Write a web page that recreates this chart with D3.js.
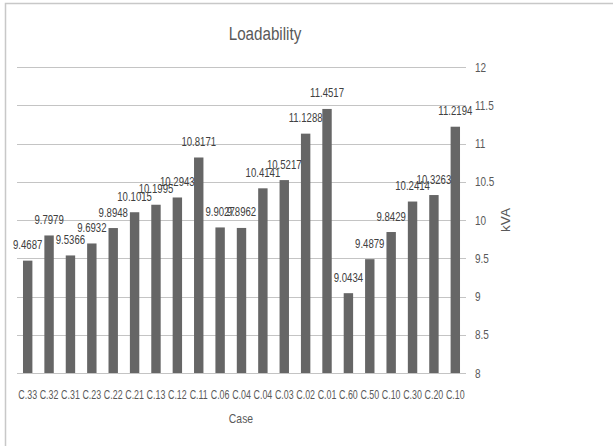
<!DOCTYPE html>
<meta charset="utf-8">
<style>
body { margin: 0; background: #fff; }
text { font-family: "Liberation Sans", Arial, sans-serif; fill: #595959; }
</style>
<svg width="613" height="446"></svg>
<script src="https://cdn.jsdelivr.net/npm/d3@7"></script>
<script>

// Data
var cases = ["C.33", "C.32", "C.31", "C.23", "C.22", "C.21", "C.13", "C.12", "C.11", "C.06", "C.04",
             "C.04", "C.03", "C.02", "C.01", "C.60", "C.50", "C.10", "C.30", "C.20", "C.10"];
var loadability = [9.4687, 9.7979, 9.5366, 9.6932, 9.8948, 10.1015, 10.1995, 10.2943, 10.8171, 9.9027, 9.8962,
                   10.4141, 10.5217, 11.1288, 11.4517, 9.0434, 9.4879, 9.8429, 10.2414, 10.3263, 11.2194];
var yTicks = [8, 8.5, 9, 9.5, 10, 10.5, 11, 11.5, 12];

var svg = d3.select("svg");
var squash = 0.8; // text in the original is horizontally compressed

// chart border (only top and left edges visible)
svg.append("rect")
    .attr("x", 5.5).attr("y", 3.5)
    .attr("width", 640).attr("height", 480)
    .attr("fill", "none")
    .attr("stroke", "#c8c8c8")
    .attr("stroke-width", 1.5);

var data = cases.map(function(c, i) { return { key: i, name: c, value: loadability[i] }; });

var x = d3.scaleBand()
    .domain(d3.range(cases.length))
    .range([17, 466])
    .paddingInner(0.56)
    .paddingOuter(0.28);

var y = d3.scaleLinear()
    .domain([8, 12])
    .range([373, 67]);

function label(sel, px, py, k) {
  return sel.attr("transform", "translate(" + px + "," + py + ") scale(" + (k || squash) + ",1)");
}

// gridlines
svg.append("g")
  .selectAll("line")
  .data(yTicks)
  .enter().append("line")
    .attr("x1", 17).attr("x2", 466)
    .attr("y1", function(d) { return Math.round(y(d)) + 0.5; })
    .attr("y2", function(d) { return Math.round(y(d)) + 0.5; })
    .style("stroke", "#c4c4c4")
    .style("stroke-width", "1.2px");

// right axis labels
svg.append("g")
  .selectAll("text")
  .data(yTicks)
  .enter().append("text")
    .each(function(d) { label(d3.select(this), 475, y(d) + 4.5); })
    .attr("font-size", 12.5)
    .text(function(d) { return d; });

// bars
svg.append("g")
  .selectAll("rect")
  .data(data)
  .enter().append("rect")
    .attr("x", function(d) { return x(d.key); })
    .attr("width", x.bandwidth())
    .attr("y", function(d) { return y(d.value); })
    .attr("height", function(d) { return y(8) - y(d.value); })
    .attr("fill", "#666666");

// data labels
svg.append("g")
  .selectAll("text")
  .data(data)
  .enter().append("text")
    .each(function(d) { label(d3.select(this), x(d.key) + x.bandwidth() / 2, y(d.value) - 11.5); })
    .attr("text-anchor", "middle")
    .attr("font-size", 12)
    .style("fill", "#404040")
    .text(function(d) { return d.value; });

// category labels
svg.append("g")
  .selectAll("text")
  .data(data)
  .enter().append("text")
    .each(function(d) { label(d3.select(this), x(d.key) + x.bandwidth() / 2, 398.5, 0.74); })
    .attr("text-anchor", "middle")
    .attr("font-size", 12)
    .text(function(d) { return d.name; });

// title
label(svg.append("text"), 265, 40)
    .attr("text-anchor", "middle")
    .attr("font-size", 19)
    .text("Loadability");

// axis titles
label(svg.append("text"), 241, 422.5)
    .attr("text-anchor", "middle")
    .attr("font-size", 13)
    .text("Case");

svg.append("text")
    .attr("transform", "translate(510,220) rotate(-90)")
    .attr("text-anchor", "middle")
    .attr("font-size", 13.5)
    .text("kVA");

</script>
